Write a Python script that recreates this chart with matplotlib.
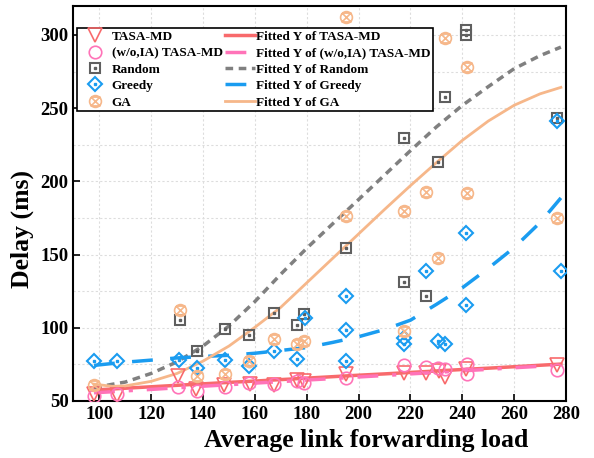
import matplotlib.pyplot as plt
import numpy as np
from matplotlib.path import Path
from matplotlib.ticker import MultipleLocator

plt.rcParams['font.family'] = ['Liberation Serif', 'DejaVu Serif']
plt.rcParams['font.weight'] = 'bold'

# scatter data
x_tasa = [98, 106.7, 130.5, 137.4, 148.2, 158.2, 167.5, 176.4, 178.8, 195.3, 217.4, 226.1, 230.9, 233.5, 241.4, 276.6]
y_tasa = [54.6, 54.1, 67.1, 58.4, 60.7, 61.4, 60.7, 64.1, 63.6, 68.1, 69.3, 68.8, 70.5, 66.6, 71.6, 74.5]

x_woia = [98, 106.7, 130.5, 137.6, 148.3, 157.8, 167.5, 176.2, 179, 195.3, 217.6, 226.1, 230.6, 233.5, 241.8, 241.8, 276.6]
y_woia = [53.6, 54.6, 59.5, 57.0, 59.8, 62.0, 61.5, 63.9, 62.5, 65.5, 74.6, 72.9, 72.8, 71.6, 75.1, 68.2, 71.0]

x_rand = [131, 137.6, 148.3, 157.7, 167.5, 176.3, 179, 195, 217.5, 217.5, 226.1, 230.5, 233.5, 241.6, 241.6, 276.6]
y_rand = [105.2, 84.1, 98.9, 95.1, 110.4, 101.7, 109.4, 154.2, 229.8, 131.2, 121.6, 213.2, 257.4, 303.5, 300.1, 243.2]

x_greedy = [98.1, 106.7, 130.9, 137.6, 148.3, 157.8, 167.5, 176.2, 179.2, 195.3, 195.3, 195.3,
            217.5, 217.5, 226.1, 230.6, 233.5, 241.6, 241.6, 276.6, 277.9]
y_greedy = [77.3, 77.3, 77.8, 72.8, 78.0, 73.8, 84.1, 78.8, 106.8, 121.5, 98.4, 77.3,
            93.2, 88.7, 138.6, 90.9, 89.2, 164.8, 115.3, 240.9, 138.6]

x_ga = [98, 131, 137.6, 148.3, 157.8, 167.5, 176.2, 179, 195.3, 195.3, 217.6, 217.6,
        226.1, 230.7, 233.5, 241.7, 241.7, 276.6]
y_ga = [61.0, 112.0, 66.9, 68.3, 77.2, 92.1, 88.7, 90.9, 176.3, 312.3, 97.8, 180.1,
        192.5, 147.4, 298.2, 277.8, 192.0, 175.2]

# fitted curves
x_fit = [98, 105, 110, 120, 130, 140, 150, 160, 170, 180, 190, 200, 210, 220, 230, 240, 250, 260, 270, 278]
fit_tasa = [57.5, 58.2, 58.7, 59.7, 60.7, 61.7, 62.7, 63.6, 64.6, 65.6, 66.6, 67.6, 68.5, 69.5, 70.5, 71.5, 72.4, 73.4, 74.4, 75.2]
fit_woia = [55.6, 56.3, 56.9, 57.9, 59.0, 60.1, 61.1, 62.2, 63.2, 64.3, 65.3, 66.4, 67.4, 68.5, 69.5, 70.6, 71.6, 72.7, 73.7, 74.6]
fit_rand = [59.0, 61.4, 62.9, 68.8, 76.7, 87.5, 101.2, 117.9, 136.6, 154.3, 171.0, 187.6, 204.3, 221.0, 237.2, 251.9, 264.7, 277.0, 285.9, 291.7]
fit_greedy = [74.3, 75.6, 76.5, 77.9, 79.4, 80.4, 81.2, 82.6, 84.5, 86.5, 90.0, 93.9, 98.8, 105.2, 116.0, 127.3, 140.6, 154.8, 171.9, 188.7]
fit_ga = [61.5, 60.0, 60.3, 63.4, 68.8, 77.2, 87.5, 100.3, 114.0, 130.7, 147.4, 164.1, 180.8, 197.1, 212.8, 228.0, 241.2, 252.0, 259.8, 264.2]

c_tasa = '#f86a6c'
c_woia = '#ff73b8'
c_rand = '#5f5f5f'
c_rand_fit = '#808080'
c_greedy = '#1a9cf0'
c_ga = '#f6b78a'

# circle with an hourglass inside, like the GA marker
hourglass = Path([(-0.75, 0.75), (0.75, 0.75), (-0.75, -0.75), (0.75, -0.75), (-0.75, 0.75)],
                 [Path.MOVETO, Path.LINETO, Path.LINETO, Path.LINETO, Path.LINETO])
ga_marker = Path.make_compound_path(Path.unit_circle(), hourglass)

fig, ax = plt.subplots(figsize=(5.94, 4.58), dpi=100)
fig.subplots_adjust(left=0.1234, right=0.953, bottom=0.1245, top=0.9876)

h_tasa, = ax.plot(x_tasa, y_tasa, 'v', ms=10, mfc='none', mec=c_tasa, mew=1.2, ls='none', zorder=4)
h_woia, = ax.plot(x_woia, y_woia, 'o', ms=9, mfc='none', mec=c_woia, mew=1.2, ls='none', zorder=4)
h_rand, = ax.plot(x_rand, y_rand, 's', ms=7, mfc='none', mec=c_rand, mew=1.5, ls='none', zorder=4)
h_rand_dot, = ax.plot(x_rand, y_rand, 's', ms=1.5, color=c_rand, ls='none', zorder=4)
h_greedy, = ax.plot(x_greedy, y_greedy, 'D', ms=7, mfc='none', mec=c_greedy, mew=1.5, ls='none', zorder=4)
h_greedy_dot, = ax.plot(x_greedy, y_greedy, 's', ms=1.5, color=c_greedy, ls='none', zorder=4)
h_ga, = ax.plot(x_ga, y_ga, marker=ga_marker, ms=8.5, mfc='none', mec=c_ga, mew=1.2, ls='none', zorder=4)

f_tasa, = ax.plot(x_fit, fit_tasa, '-', color=c_tasa, lw=2.5, zorder=3)
f_woia, = ax.plot(x_fit, fit_woia, color=c_woia, lw=2.5, dashes=[6, 4, 1.2, 4], zorder=3)
f_rand, = ax.plot(x_fit, fit_rand, color=c_rand_fit, lw=2.5, dashes=[2.2, 1.6], zorder=3)
f_greedy, = ax.plot(x_fit, fit_greedy, color=c_greedy, lw=2.5, dashes=[6, 5], zorder=3)
f_ga, = ax.plot(x_fit, fit_ga, '-', color=c_ga, lw=2, zorder=3)

ax.set_xlim(90, 280)
ax.set_ylim(50, 320)
ax.xaxis.set_major_locator(MultipleLocator(20))
ax.yaxis.set_major_locator(MultipleLocator(50))
ax.yaxis.set_minor_locator(MultipleLocator(25))
ax.grid(True, which='major', axis='x', ls=(0, (2, 2)), color='#dddddd', lw=0.8)
ax.grid(True, which='both', axis='y', ls=(0, (2, 2)), color='#dddddd', lw=0.8)
ax.set_axisbelow(True)
ax.tick_params(which='both', direction='in', width=1.2, labelsize=13.5)
ax.tick_params(which='major', length=5)
ax.tick_params(which='minor', length=0)
for lbl in ax.get_xticklabels() + ax.get_yticklabels():
    lbl.set_fontweight('bold')
for s in ax.spines.values():
    s.set_linewidth(1.5)

ax.set_xlabel('Average link forwarding load', fontsize=18.5, fontweight='bold')
ax.set_ylabel('Delay (ms)', fontsize=18.5, fontweight='bold')
# labels sit off-centre in the original
ax.xaxis.set_label_coords(0.594, -0.07)
ax.yaxis.set_label_coords(-0.08, 0.434)

handles = [h_tasa, h_woia, (h_rand, h_rand_dot), (h_greedy, h_greedy_dot), h_ga,
           f_tasa, f_woia, f_rand, f_greedy, f_ga]
labels = ['TASA-MD', '(w/o,IA) TASA-MD', 'Random', 'Greedy', 'GA',
          'Fitted Y of TASA-MD', 'Fitted Y of (w/o,IA) TASA-MD', 'Fitted Y of Random',
          'Fitted Y of Greedy', 'Fitted Y of GA']
leg = ax.legend(handles, labels, ncol=2, loc='upper left', bbox_to_anchor=(0.008, 0.944),
                prop={'size': 9.5, 'weight': 'bold'}, frameon=True, fancybox=False, edgecolor='black',
                handlelength=2.3, columnspacing=0.15, labelspacing=0.32,
                borderpad=0.2, handletextpad=0.1, borderaxespad=0)
leg.get_frame().set_linewidth(1.2)
leg.get_frame().set_alpha(1)

fig.savefig('out.png', dpi=100)
